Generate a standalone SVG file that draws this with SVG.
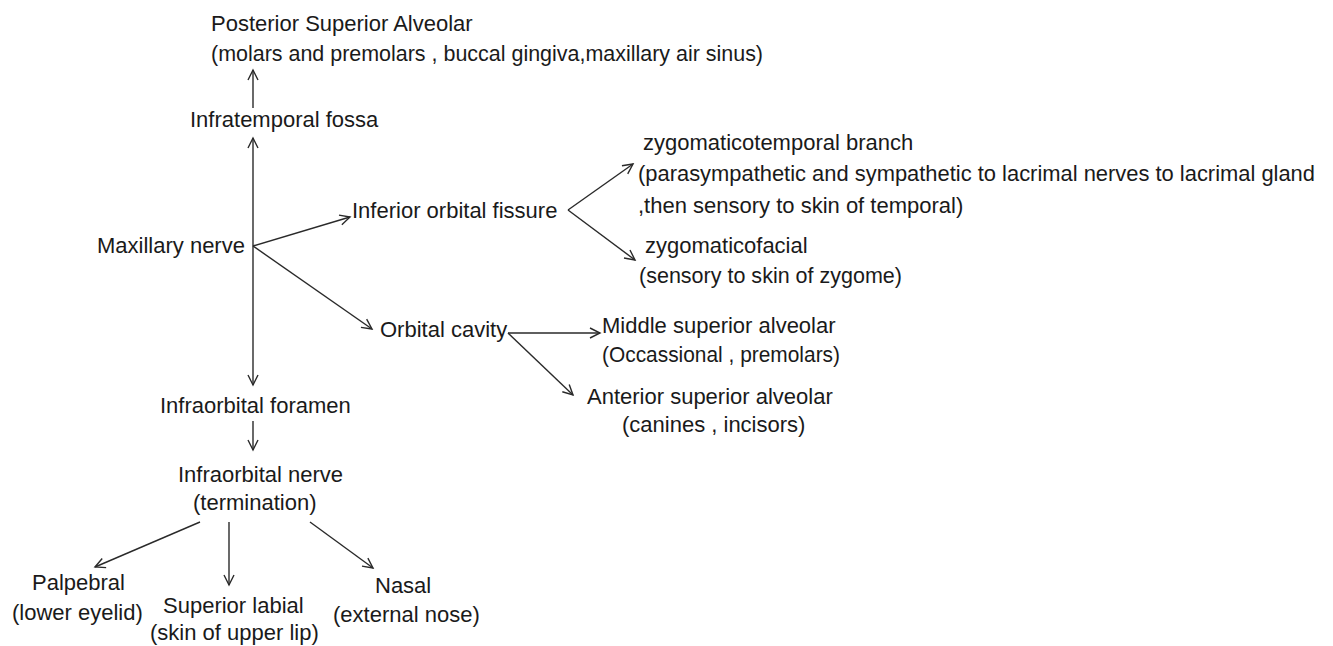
<svg xmlns="http://www.w3.org/2000/svg" width="1333" height="646" viewBox="0 0 1333 646">
<style>
text{font-family:"Liberation Sans",Arial,sans-serif;font-size:22px;fill:#1a1a1a}
.c line{stroke:#2a2a2a;stroke-width:1.4;fill:none;marker-end:url(#ah)}
</style>
<defs>
<marker id="ah" markerUnits="userSpaceOnUse" markerWidth="14" markerHeight="14" refX="11" refY="6" orient="auto-start-reverse" viewBox="0 0 14 12">
<path d="M1,1 L11,6 L1,11" fill="none" stroke="#2a2a2a" stroke-width="1.4"/>
</marker>
</defs>
<rect width="1333" height="646" fill="#fff"/>
<g class="c" id="connectors">
<line x1="253" y1="108" x2="253" y2="70"/>
<line x1="253" y1="385" x2="253" y2="138" style="marker-start:url(#ah)"/>
<line x1="253" y1="246" x2="350" y2="217"/>
<line x1="253" y1="246" x2="372" y2="329"/>
<line x1="568" y1="210" x2="633" y2="164"/>
<line x1="568" y1="210" x2="635" y2="260"/>
<line x1="508" y1="333" x2="600" y2="333"/>
<line x1="508" y1="333" x2="573" y2="395"/>
<line x1="253" y1="421" x2="253" y2="450"/>
<line x1="200" y1="522" x2="95" y2="567"/>
<line x1="229" y1="522" x2="229" y2="585"/>
<line x1="310" y1="522" x2="373" y2="568"/>
</g>
<g id="posterior-superior-alveolar">
<text x="211" y="31">Posterior Superior Alveolar</text>
<text x="211" y="61" textLength="552" lengthAdjust="spacingAndGlyphs">(molars and premolars , buccal gingiva,maxillary air sinus)</text>
</g>
<g id="infratemporal-fossa"><text x="190" y="127">Infratemporal fossa</text></g>
<g id="maxillary-nerve"><text x="97" y="253">Maxillary nerve</text></g>
<g id="inferior-orbital-fissure"><text x="352" y="218">Inferior orbital fissure</text></g>
<g id="zygomaticotemporal">
<text x="643" y="150">zygomaticotemporal branch</text>
<text x="638" y="181" textLength="677" lengthAdjust="spacingAndGlyphs">(parasympathetic and sympathetic to lacrimal nerves to lacrimal gland</text>
<text x="638" y="213">,then sensory to skin of temporal)</text>
</g>
<g id="zygomaticofacial">
<text x="645" y="253">zygomaticofacial</text>
<text x="639" y="283" textLength="263" lengthAdjust="spacingAndGlyphs">(sensory to skin of zygome)</text>
</g>
<g id="orbital-cavity"><text x="380" y="337">Orbital cavity</text></g>
<g id="middle-superior-alveolar">
<text x="602" y="333">Middle superior alveolar</text>
<text x="602" y="362" textLength="238" lengthAdjust="spacingAndGlyphs">(Occassional , premolars)</text>
</g>
<g id="anterior-superior-alveolar">
<text x="587" y="404">Anterior superior alveolar</text>
<text x="622" y="432">(canines , incisors)</text>
</g>
<g id="infraorbital-foramen"><text x="160" y="413">Infraorbital foramen</text></g>
<g id="infraorbital-nerve">
<text x="178" y="482">Infraorbital nerve</text>
<text x="193" y="510">(termination)</text>
</g>
<g id="palpebral">
<text x="32" y="590">Palpebral</text>
<text x="12" y="620">(lower eyelid)</text>
</g>
<g id="superior-labial">
<text x="163" y="613">Superior labial</text>
<text x="150" y="640">(skin of upper lip)</text>
</g>
<g id="nasal">
<text x="375" y="593">Nasal</text>
<text x="333" y="622">(external nose)</text>
</g>
</svg>
